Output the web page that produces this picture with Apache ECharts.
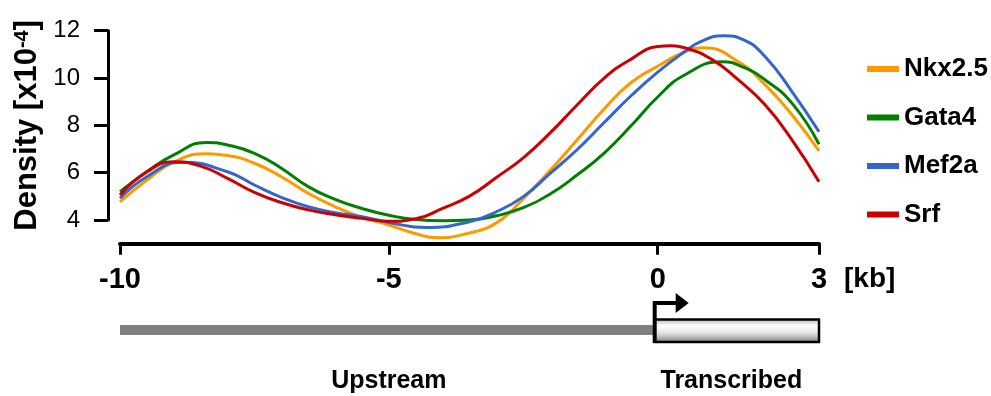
<!DOCTYPE html>
<html><head><meta charset="utf-8">
<script src="https://cdn.jsdelivr.net/npm/echarts@6/dist/echarts.min.js"></script>
<style>html,body{margin:0;padding:0;background:#fff}#c{width:991px;height:396px}</style>
</head><body><div id="c"></div>
<script>
// Positions relative to TSS [kb] and densities [x10^-4], read per series
const nkx25X = [-10,-9.5,-9,-8.4,-8,-7.5,-7,-6.5,-6,-5.5,-5,-4.5,-4.1,-3.6,-3,-2.5,-2,-1.5,-1,-0.5,0,0.5,0.85,1.5,2,2.5,3];
const nkx25Y = [4.77,5.69,6.45,6.80,6.73,6.40,5.83,5.13,4.56,4.11,3.79,3.42,3.25,3.40,3.88,4.90,6.10,7.38,8.68,9.80,10.50,11.10,11.28,10.69,9.71,8.44,6.92];
const gata4X = [-10,-9.5,-9,-8.4,-8,-7.5,-7,-6.5,-6,-5.5,-5,-4.5,-4,-3.5,-3,-2.5,-2,-1.5,-1,-0.5,0,0.5,1.2,1.6,2,2.5,3];
const gata4Y = [5.20,6.04,6.75,7.28,7.17,6.82,6.19,5.41,4.87,4.49,4.20,4.02,3.97,4.00,4.18,4.52,5.10,5.90,6.82,7.97,9.20,10.13,10.69,10.45,9.92,8.93,7.20];
const mef2aX = [-10,-9.5,-8.85,-8,-7.5,-7,-6.5,-6,-5.5,-5,-4.3,-3.5,-3,-2.5,-2,-1.5,-1,-0.5,0,0.5,0.8,1.22,1.6,2,2.5,3];
const mef2aY = [4.92,5.83,6.44,6.04,5.48,4.96,4.56,4.31,4.14,3.90,3.68,3.93,4.35,4.99,5.97,6.97,8.11,9.24,10.25,11.11,11.54,11.79,11.61,10.90,9.42,7.73];
const srfX = [-10,-9.5,-9,-8.5,-8,-7.5,-7,-6.5,-6,-5.5,-5,-4.5,-4,-3.5,-3,-2.5,-2,-1.5,-1,-0.5,0,0.25,0.5,1,1.5,2,2.5,3];
const srfY = [5.06,6.04,6.46,6.28,5.76,5.17,4.74,4.43,4.22,4.07,3.95,4.05,4.49,5.01,5.80,6.63,7.68,8.86,9.99,10.79,11.33,11.36,11.28,10.80,9.92,8.86,7.38,5.62];
const seriesNames = ['Nkx2.5','Gata4','Mef2a','Srf'];
const seriesColors = ['#FF9900','#008000','#3366CC','#CC0000'];
const xTicks = [-10,-5,0,3];
const upstreamRange = [-10,0];
const transcribedRange = [0,3];
const regionLabels = [{text:'Upstream', x:-5}, {text:'Transcribed', x:1.37}];

const FONT = 'Liberation Sans, Arial, Helvetica, sans-serif';
const allX = [nkx25X, gata4X, mef2aX, srfX];
const allY = [nkx25Y, gata4Y, mef2aY, srfY];

const chart = echarts.init(document.getElementById('c'), null, {renderer:'canvas'});

const lineSeries = allY.map((vals, i) => ({
  name: seriesNames[i],
  type: 'line',
  xAxisIndex: 1, yAxisIndex: 1,
  data: allX[i].map((x, k) => [x, vals[k]]),
  smooth: 0.5,
  showSymbol: false,
  symbol: 'none',
  lineStyle: {width: 3, color: seriesColors[i]},
  itemStyle: {color: seriesColors[i]},
  z: 3
}));

const diagramSeries = {
  type: 'custom',
  xAxisIndex: 2, yAxisIndex: 2,
  data: [[0, 0]],
  silent: true,
  renderItem: function (params, api) {
    const yBar = api.coord([0, 40])[1];
    const yBoxTop = api.coord([0, 29.5])[1];
    const yBoxBot = api.coord([0, 52])[1];
    const yArrow = api.coord([0, 13])[1];
    const yText = api.coord([0, 91])[1];
    const xL = api.coord([upstreamRange[0], 0])[0];
    const x0 = api.coord([transcribedRange[0], 0])[0] - 3;
    const x3 = api.coord([transcribedRange[1], 0])[0];
    const children = [
      {type:'rect', shape:{x:xL, y:yBar-5, width:x0-xL, height:10}, style:{fill:'#808080'}},
      {type:'rect', shape:{x:x0, y:yBoxTop, width:x3-x0, height:yBoxBot-yBoxTop},
        style:{fill:new echarts.graphic.LinearGradient(0,0,0,1,[
          {offset:0, color:'#b0b0b0'},{offset:0.3, color:'#ffffff'},
          {offset:0.6, color:'#e2e2e2'},{offset:1, color:'#7a7a7a'}]),
          stroke:'#000', lineWidth:2.5}},
      {type:'polyline', shape:{points:[[x0, yBoxBot+1],[x0, yArrow],[x0+22, yArrow]]},
        style:{stroke:'#000', lineWidth:4, fill:null}},
      {type:'polygon', shape:{points:[[x0+21, yArrow-10],[x0+34, yArrow],[x0+21, yArrow+10]]},
        style:{fill:'#000'}}
    ];
    regionLabels.forEach(l => {
      const p = api.coord([l.x, 91]);
      children.push({type:'text', style:{text:l.text, x:p[0], y:yText, align:'center',
        verticalAlign:'middle', fill:'#000', font:'bold 25px ' + FONT}});
    });
    return {type:'group', children};
  }
};

chart.setOption({
  animation: false,
  backgroundColor: '#fff',
  textStyle: {fontFamily: FONT},
  grid: [
    {left:108, width:10, top:30.7, height:189.3, containLabel:false},
    {left:120, right:172, top:30.7, height:213, containLabel:false},
    {left:120, right:172, top:290, height:100, containLabel:false}
  ],
  legend: {
    orient:'vertical', left:862, top:51,
    icon:'rect', itemWidth:32, itemHeight:6, itemGap:22.5,
    data: seriesNames,
    textStyle:{fontSize:26, fontWeight:'bold', color:'#000', fontFamily:FONT, lineHeight:26}
  },
  xAxis: [
    {gridIndex:0, type:'value', show:false, min:0, max:1},
    {gridIndex:1, type:'value', min:-10, max:3, position:'bottom',
      name:'[kb]', nameLocation:'end', nameGap:25,
      nameTextStyle:{fontSize:28, fontWeight:'bold', color:'#000', fontFamily:FONT, verticalAlign:'top', padding:[22,0,0,0]},
      axisLine:{show:true, lineStyle:{color:'#000', width:4}},
      axisTick:{show:true, length:11, lineStyle:{color:'#000', width:3}, customValues:xTicks},
      axisLabel:{show:true, customValues:xTicks, margin:22, fontSize:29, fontWeight:'bold', color:'#000', fontFamily:FONT},
      splitLine:{show:false}},
    {gridIndex:2, type:'value', min:-10, max:3, show:false}
  ],
  yAxis: [
    {gridIndex:0, type:'value', min:4, max:12, interval:2, position:'left',
      name:'Density [x10{sup|-4}]', nameLocation:'middle', nameRotate:90, nameGap:65,
      nameTextStyle:{fontSize:31, fontWeight:'bold', color:'#000', fontFamily:FONT,
        rich:{sup:{fontSize:20, fontWeight:'bold', color:'#000', fontFamily:FONT, verticalAlign:'top', lineHeight:20}}},
      axisLine:{show:true, lineStyle:{color:'#000', width:3}},
      axisTick:{show:true, length:14, lineStyle:{color:'#000', width:3}},
      axisLabel:{margin:28, fontSize:24, color:'#000', fontFamily:FONT},
      splitLine:{show:false}},
    {gridIndex:1, type:'value', min:3, max:12, show:false},
    {gridIndex:2, type:'value', min:0, max:100, inverse:true, show:false}
  ],
  series: lineSeries.concat([diagramSeries])
});
</script>
</body></html>
